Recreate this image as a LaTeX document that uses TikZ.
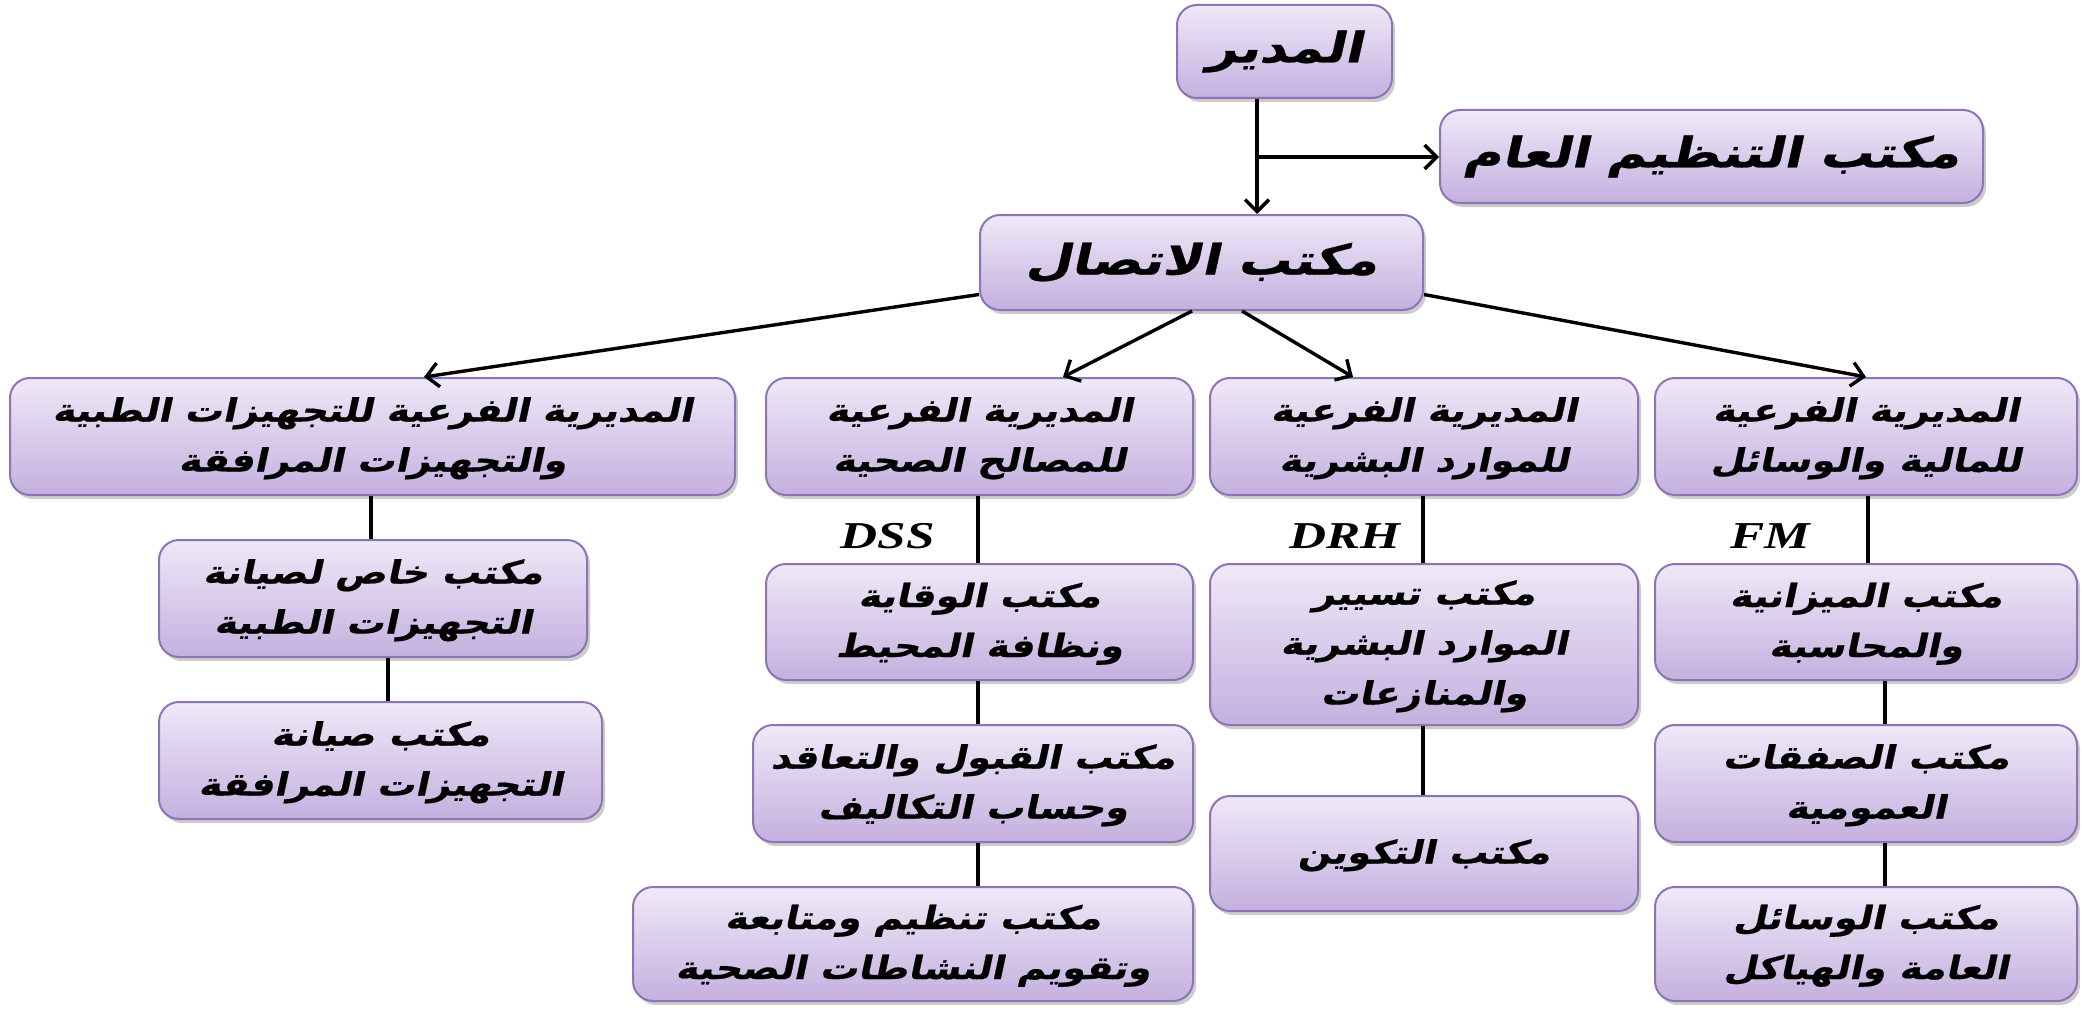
\documentclass[tikz,border=0pt]{standalone}
\usepackage{fontspec}
\usepackage{graphicx}
\usetikzlibrary{arrows.meta,shadows}
\TeXXeTstate=1
\newfontfamily\arabicfont[Script=Arabic,FakeSlant=0.18,FakeBold=0.6]{DejaVu Sans}
\newfontfamily\latinlbl{Liberation Serif}
\definecolor{boxtop}{HTML}{EEE9F7}
\definecolor{boxbot}{HTML}{C4B0DF}
\definecolor{boxline}{HTML}{8E74B4}
\newcommand{\arsx}{1.19}
\newcommand{\brsx}{1.25}
\newcommand{\arl}[1]{\beginR #1\endR}
\newcommand{\atext}[1]{\scalebox{\arsx}[1]{\fontsize{16}{25}\selectfont\arabicfont\bfseries\begin{tabular}{@{}c@{}}#1\end{tabular}}}
\newcommand{\btext}[1]{\scalebox{\brsx}[1]{\fontsize{21}{28}\selectfont\arabicfont\bfseries\beginR #1\endR}}
\tikzset{
  box/.style={draw=boxline, line width=1pt, rounded corners=10pt,
    top color=boxtop, bottom color=boxbot, inner sep=0pt,
    drop shadow={opacity=0.4, shadow xshift=1.5pt, shadow yshift=-2pt}},
  arr/.style={line width=1.7pt, -{Straight Barb[length=6pt,width=12pt,line width=1.7pt]}},
  link/.style={line width=1.7pt},
  lbl/.style={font=\fontsize{19}{22}\selectfont\latinlbl\bfseries\itshape, inner sep=0pt}
}
\begin{document}
\begin{tikzpicture}[x=0.5pt,y=-0.5pt]
\useasboundingbox (0,0) rectangle (2082,1011);
% top
\node[box, minimum width=107.5pt, minimum height=46.5pt] (dir) at (1284.5,51.5) {\btext{المدير}};
\node[box, minimum width=271.5pt, minimum height=46.5pt] (org) at (1711.5,156.5) {\btext{مكتب التنظيم العام}};
\node[box, minimum width=221.5pt, minimum height=47.5pt] (con) at (1201.5,262.5) {\btext{مكتب الاتصال}};
% row 1
\node[box, minimum width=362.5pt, minimum height=58.5pt] (A) at (372.5,436.5) {\atext{\arl{المديرية الفرعية للتجهيزات الطبية}\\\arl{والتجهيزات المرافقة}}};
\node[box, minimum width=213.5pt, minimum height=58.5pt] (B) at (979.5,436.5) {\atext{\arl{المديرية الفرعية}\\\arl{للمصالح الصحية}}};
\node[box, minimum width=214pt, minimum height=58.5pt] (C) at (1424,436.5) {\atext{\arl{المديرية الفرعية}\\\arl{للموارد البشرية}}};
\node[box, minimum width=211pt, minimum height=58.5pt] (D) at (1866,436.5) {\atext{\arl{المديرية الفرعية}\\\arl{للمالية والوسائل}}};
% column A
\node[box, minimum width=214pt, minimum height=58.5pt] (A2) at (373,598.5) {\atext{\arl{مكتب خاص لصيانة}\\\arl{التجهيزات الطبية}}};
\node[box, minimum width=221.5pt, minimum height=58.5pt] (A3) at (380.5,760.5) {\atext{\arl{مكتب صيانة}\\\arl{التجهيزات المرافقة}}};
% column B
\node[box, minimum width=213.5pt, minimum height=58pt] (B2) at (979.5,622) {\atext{\arl{مكتب الوقاية}\\\arl{ونظافة المحيط}}};
\node[box, minimum width=220pt, minimum height=58.5pt] (B3) at (973,783.5) {\atext{\arl{مكتب القبول والتعاقد}\\\arl{وحساب التكاليف}}};
\node[box, minimum width=280pt, minimum height=57pt] (B4) at (913,944) {\atext{\arl{مكتب تنظيم ومتابعة}\\\arl{وتقويم النشاطات الصحية}}};
% column C
\node[box, minimum width=214pt, minimum height=80.5pt] (C2) at (1424,644.5) {\atext{\arl{مكتب تسيير}\\\arl{الموارد البشرية}\\\arl{والمنازعات}}};
\node[box, minimum width=214pt, minimum height=57.5pt] (C3) at (1424,853.5) {\atext{\arl{مكتب التكوين}}};
% column D
\node[box, minimum width=211pt, minimum height=58pt] (D2) at (1866,622) {\atext{\arl{مكتب الميزانية}\\\arl{والمحاسبة}}};
\node[box, minimum width=211pt, minimum height=58.5pt] (D3) at (1866,783.5) {\atext{\arl{مكتب الصفقات}\\\arl{العمومية}}};
\node[box, minimum width=211pt, minimum height=57pt] (D4) at (1866,944) {\atext{\arl{مكتب الوسائل}\\\arl{العامة والهياكل}}};
% labels
\node[lbl] (dss) at (888,536) {\scalebox{1.35}[1]{DSS}};
\node[lbl] (drh) at (1345,536) {\scalebox{1.35}[1]{DRH}};
\node[lbl] (fm) at (1770,536) {\scalebox{1.35}[1]{FM}};
% connector columns
\coordinate (xd) at (1257,0);
\coordinate (br) at (1257,157);
\coordinate (xa) at (371,0);
\coordinate (xa2) at (388,0);
\coordinate (xb) at (978,0);
\coordinate (xc) at (1423,0);
\coordinate (xdd) at (1868,0);
\coordinate (xd2) at (1885,0);
% top arrows
\draw[arr] (dir.south -| xd) -- (con.north -| xd);
\draw[arr] (br) -- (br -| org.west);
\draw[arr] ([yshift=-16pt]con.west) -- ([xshift=25.75pt]A.north);
\draw[arr] ([xshift=-4.75pt]con.south) -- ([xshift=41.75pt]B.north);
\draw[arr] ([xshift=20.25pt]con.south) -- ([xshift=-35.5pt]C.north);
\draw[arr] ([yshift=-16pt]con.east) -- (D.north);
% vertical links
\draw[link] (A.south -| xa) -- (A2.north -| xa);
\draw[link] (A2.south -| xa2) -- (A3.north -| xa2);
\draw[link] (B.south -| xb) -- (B2.north -| xb);
\draw[link] (B2.south -| xb) -- (B3.north -| xb);
\draw[link] (B3.south -| xb) -- (B4.north -| xb);
\draw[link] (C.south -| xc) -- (C2.north -| xc);
\draw[link] (C2.south -| xc) -- (C3.north -| xc);
\draw[link] (D.south -| xdd) -- (D2.north -| xdd);
\draw[link] (D2.south -| xd2) -- (D3.north -| xd2);
\draw[link] (D3.south -| xd2) -- (D4.north -| xd2);
\end{tikzpicture}
\end{document}
